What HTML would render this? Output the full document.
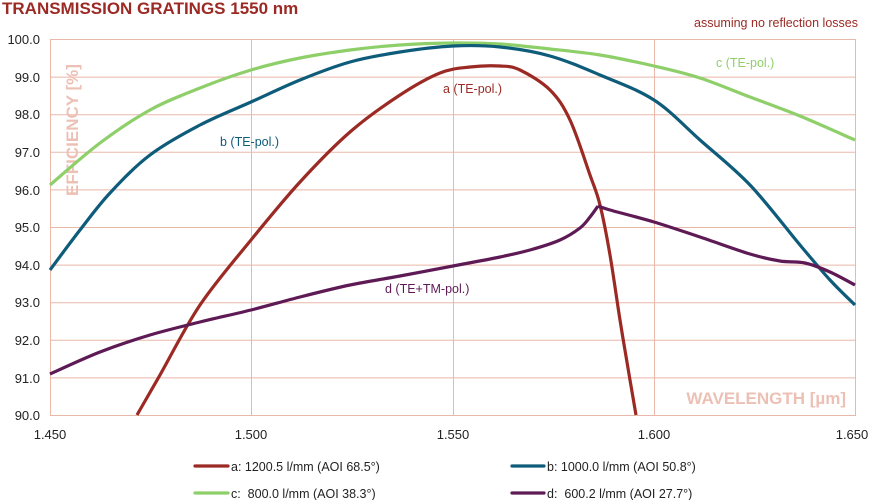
<!DOCTYPE html>
<html><head><style>
body{margin:0;background:#fff;}
svg{display:block;font-family:"Liberation Sans",sans-serif;}
</style></head><body>
<svg id="s" width="873" height="500" viewBox="0 0 873 500">
<text x="2" y="14" font-size="17" font-weight="bold" fill="#9b2a24">TRANSMISSION GRATINGS 1550 nm</text>
<text x="858" y="27" font-size="12.5" fill="#9b2a24" text-anchor="end">assuming no reflection losses</text>
<g stroke="#eab8a8" stroke-width="1" fill="none">
<rect x="50.5" y="39.5" width="805" height="376"/>
<line x1="251.5" y1="39" x2="251.5" y2="415"/><line x1="453.5" y1="39" x2="453.5" y2="415"/><line x1="654.5" y1="39" x2="654.5" y2="415"/>
<line x1="50" y1="77.1" x2="855" y2="77.1"/><line x1="50" y1="114.7" x2="855" y2="114.7"/><line x1="50" y1="152.3" x2="855" y2="152.3"/><line x1="50" y1="189.9" x2="855" y2="189.9"/><line x1="50" y1="227.5" x2="855" y2="227.5"/><line x1="50" y1="265.1" x2="855" y2="265.1"/><line x1="50" y1="302.7" x2="855" y2="302.7"/><line x1="50" y1="340.3" x2="855" y2="340.3"/><line x1="50" y1="377.9" x2="855" y2="377.9"/>
</g>
<g font-size="13" fill="#222" text-anchor="end">
<text x="40" y="44">100.0</text><text x="40" y="82">99.0</text><text x="40" y="119">98.0</text><text x="40" y="157">97.0</text><text x="40" y="195">96.0</text><text x="40" y="232">95.0</text><text x="40" y="270">94.0</text><text x="40" y="307">93.0</text><text x="40" y="345">92.0</text><text x="40" y="383">91.0</text><text x="40" y="420">90.0</text>
</g>
<g font-size="13" fill="#222" text-anchor="middle">
<text x="50" y="439">1.450</text><text x="251" y="439">1.500</text><text x="453" y="439">1.550</text><text x="654" y="439">1.600</text><text x="852" y="439">1.650</text>
</g>
<text transform="translate(78,130) rotate(-90)" font-size="17" font-weight="bold" fill="#ecc0b4" text-anchor="middle">EFFICIENCY [%]</text>
<text x="846" y="404" font-size="17" font-weight="bold" fill="#ecc0b4" text-anchor="end">WAVELENGTH [µm]</text>
<g fill="none" stroke-width="3.2" stroke-linejoin="round">
<path stroke="#8fcf6a" data-p="50,185 100,143 150,110 200,88 251,70 300,58 350,50 400,45 453,43 500,44 550,49 600,55 654,66 700,78 750,97 800,116 855,140"/>
<path stroke="#0e5c7a" data-p="50,270 80,230 110,193 150,155 200,125 251,102 300,80 350,62 400,52 453,46 500,47 550,56 600,75 654,100 700,140 750,185 800,245 830,280 855,305"/>
<path stroke="#9b2a24" data-p="137,415 160,375 200,305 251,240 300,182 350,132 400,95 440,73 470,67 500,66 520,70 550,90 570,120 590,175 600,205 610,255 620,320 630,380 636,415"/>
<path stroke="#5e1a55" data-p="50,374 100,352 150,335 200,322 251,310 300,297 350,285 400,276 453,266 500,257 530,250 560,240 580,228 590,217 598,206"/>
<path stroke="#5e1a55" data-p="598,206 610,210 654,222 700,237 750,254 780,261 805,263 830,272 855,285"/>
</g>
<g font-size="12.5">
<text x="443" y="93" fill="#9b2a24">a (TE-pol.)</text>
<text x="220" y="146" fill="#0e5c7a">b (TE-pol.)</text>
<text x="716" y="67" fill="#8fcf6a">c (TE-pol.)</text>
<text x="385" y="293" fill="#5e1a55">d (TE+TM-pol.)</text>
</g>
<g stroke-width="3.2" stroke-linecap="round">
<line x1="195" y1="466" x2="228" y2="466" stroke="#9b2a24"/>
<line x1="512" y1="466" x2="544" y2="466" stroke="#0e5c7a"/>
<line x1="195" y1="493" x2="228" y2="493" stroke="#8fcf6a"/>
<line x1="512" y1="493" x2="544" y2="493" stroke="#5e1a55"/>
</g>
<g font-size="12.5" fill="#222">
<text x="231" y="471">a: 1200.5 l/mm (AOI 68.5°)</text>
<text x="547" y="471">b: 1000.0 l/mm (AOI 50.8°)</text>
<text x="231" y="498">c:&#160;&#160;800.0 l/mm (AOI 38.3°)</text>
<text x="547" y="498">d:&#160;&#160;600.2 l/mm (AOI 27.7°)</text>
</g>
</svg>
<script>
document.querySelectorAll('path[data-p]').forEach(function(el){
var p=el.getAttribute('data-p').split(' ').map(function(s){return s.split(',').map(Number);});
var d='M'+p[0][0]+','+p[0][1];
for(var i=0;i<p.length-1;i++){
var p0=p[i-1]||p[i],p1=p[i],p2=p[i+1],p3=p[i+2]||p2;
var c1x=p1[0]+(p2[0]-p0[0])/6,c1y=p1[1]+(p2[1]-p0[1])/6;
var c2x=p2[0]-(p3[0]-p1[0])/6,c2y=p2[1]-(p3[1]-p1[1])/6;
d+=' C'+c1x.toFixed(1)+','+c1y.toFixed(1)+' '+c2x.toFixed(1)+','+c2y.toFixed(1)+' '+p2[0]+','+p2[1];
}
el.setAttribute('d',d);
});
</script>
</body></html>
